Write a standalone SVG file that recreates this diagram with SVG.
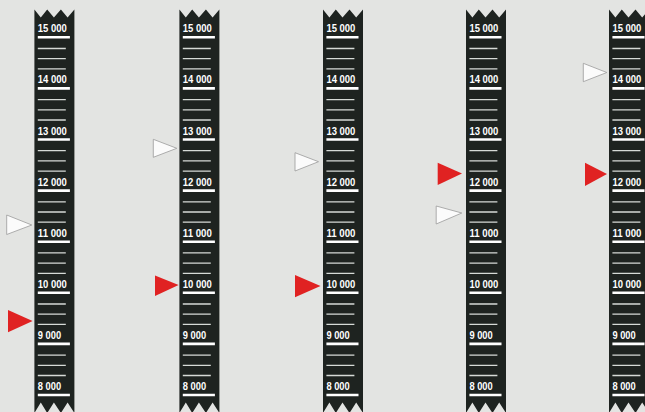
<svg xmlns="http://www.w3.org/2000/svg" width="645" height="412" viewBox="0 0 645 412">
<defs>
<style>
.tape{fill:#1e2320}
.lbl{font-family:"Liberation Sans",Arial,sans-serif;font-weight:bold;font-size:10.6px;fill:#ffffff}
.thick{stroke:#ffffff;stroke-width:2.6;fill:none}
.thin{stroke:#d6dad6;stroke-width:1.3;fill:none}
.red{fill:#e02222}
.white{fill:#fbfbfb;stroke:#9a9a9a;stroke-width:0.8}
</style>
<path id="tapeShape" d="M0,9.5 L6.4,17.5 L12.8,9.5 L19.5,17.5 L26.5,9.5 L33.2,17.5 L40,9.5 L40,413 L33.2,402.5 L26.5,413 L19.5,402.5 L12.8,413 L6.4,402.5 L0,413 Z"/>
<path id="thinTicks" d="M3.4,48.5H31.4M3.4,58.7H31.4M3.4,68.9H31.4M3.4,99.6H31.4M3.4,109.8H31.4M3.4,120H31.4M3.4,150.7H31.4M3.4,160.9H31.4M3.4,171.1H31.4M3.4,201.8H31.4M3.4,212H31.4M3.4,222.2H31.4M3.4,252.9H31.4M3.4,263.1H31.4M3.4,273.3H31.4M3.4,304H31.4M3.4,314.2H31.4M3.4,324.4H31.4M3.4,355.1H31.4M3.4,365.3H31.4M3.4,375.5H31.4"/>
<path id="thickTicks" d="M3.4,37.3H35.5M3.4,88.4H35.5M3.4,139.5H35.5M3.4,190.6H35.5M3.4,241.7H35.5M3.4,292.8H35.5M3.4,343.9H35.5M3.4,395H35.5"/>
</defs>
<rect width="645" height="412" fill="#e3e4e2"/>

<g id="altimeter1" transform="translate(34.4,0)">
<use href="#tapeShape" class="tape"/>
<use href="#thinTicks" class="thin"/>
<use href="#thickTicks" class="thick"/>
<text class="lbl" x="3.4" y="32.3" textLength="29" lengthAdjust="spacingAndGlyphs">15 000</text>
<text class="lbl" x="3.4" y="83.4" textLength="29" lengthAdjust="spacingAndGlyphs">14 000</text>
<text class="lbl" x="3.4" y="134.5" textLength="29" lengthAdjust="spacingAndGlyphs">13 000</text>
<text class="lbl" x="3.4" y="185.6" textLength="29" lengthAdjust="spacingAndGlyphs">12 000</text>
<text class="lbl" x="3.4" y="236.7" textLength="29" lengthAdjust="spacingAndGlyphs">11 000</text>
<text class="lbl" x="3.4" y="287.8" textLength="29" lengthAdjust="spacingAndGlyphs">10 000</text>
<text class="lbl" x="3.4" y="338.9" textLength="23.3" lengthAdjust="spacingAndGlyphs">9 000</text>
<text class="lbl" x="3.4" y="390" textLength="23.3" lengthAdjust="spacingAndGlyphs">8 000</text>
</g>

<g id="altimeter2" transform="translate(179.4,0)">
<use href="#tapeShape" class="tape"/>
<use href="#thinTicks" class="thin"/>
<use href="#thickTicks" class="thick"/>
<text class="lbl" x="3.4" y="32.3" textLength="29" lengthAdjust="spacingAndGlyphs">15 000</text>
<text class="lbl" x="3.4" y="83.4" textLength="29" lengthAdjust="spacingAndGlyphs">14 000</text>
<text class="lbl" x="3.4" y="134.5" textLength="29" lengthAdjust="spacingAndGlyphs">13 000</text>
<text class="lbl" x="3.4" y="185.6" textLength="29" lengthAdjust="spacingAndGlyphs">12 000</text>
<text class="lbl" x="3.4" y="236.7" textLength="29" lengthAdjust="spacingAndGlyphs">11 000</text>
<text class="lbl" x="3.4" y="287.8" textLength="29" lengthAdjust="spacingAndGlyphs">10 000</text>
<text class="lbl" x="3.4" y="338.9" textLength="23.3" lengthAdjust="spacingAndGlyphs">9 000</text>
<text class="lbl" x="3.4" y="390" textLength="23.3" lengthAdjust="spacingAndGlyphs">8 000</text>
</g>

<g id="altimeter3" transform="translate(323,0)">
<use href="#tapeShape" class="tape"/>
<use href="#thinTicks" class="thin"/>
<use href="#thickTicks" class="thick"/>
<text class="lbl" x="3.4" y="32.3" textLength="29" lengthAdjust="spacingAndGlyphs">15 000</text>
<text class="lbl" x="3.4" y="83.4" textLength="29" lengthAdjust="spacingAndGlyphs">14 000</text>
<text class="lbl" x="3.4" y="134.5" textLength="29" lengthAdjust="spacingAndGlyphs">13 000</text>
<text class="lbl" x="3.4" y="185.6" textLength="29" lengthAdjust="spacingAndGlyphs">12 000</text>
<text class="lbl" x="3.4" y="236.7" textLength="29" lengthAdjust="spacingAndGlyphs">11 000</text>
<text class="lbl" x="3.4" y="287.8" textLength="29" lengthAdjust="spacingAndGlyphs">10 000</text>
<text class="lbl" x="3.4" y="338.9" textLength="23.3" lengthAdjust="spacingAndGlyphs">9 000</text>
<text class="lbl" x="3.4" y="390" textLength="23.3" lengthAdjust="spacingAndGlyphs">8 000</text>
</g>

<g id="altimeter4" transform="translate(466,0)">
<use href="#tapeShape" class="tape"/>
<use href="#thinTicks" class="thin"/>
<use href="#thickTicks" class="thick"/>
<text class="lbl" x="3.4" y="32.3" textLength="29" lengthAdjust="spacingAndGlyphs">15 000</text>
<text class="lbl" x="3.4" y="83.4" textLength="29" lengthAdjust="spacingAndGlyphs">14 000</text>
<text class="lbl" x="3.4" y="134.5" textLength="29" lengthAdjust="spacingAndGlyphs">13 000</text>
<text class="lbl" x="3.4" y="185.6" textLength="29" lengthAdjust="spacingAndGlyphs">12 000</text>
<text class="lbl" x="3.4" y="236.7" textLength="29" lengthAdjust="spacingAndGlyphs">11 000</text>
<text class="lbl" x="3.4" y="287.8" textLength="29" lengthAdjust="spacingAndGlyphs">10 000</text>
<text class="lbl" x="3.4" y="338.9" textLength="23.3" lengthAdjust="spacingAndGlyphs">9 000</text>
<text class="lbl" x="3.4" y="390" textLength="23.3" lengthAdjust="spacingAndGlyphs">8 000</text>
</g>

<g id="altimeter5" transform="translate(609,0)">
<use href="#tapeShape" class="tape"/>
<use href="#thinTicks" class="thin"/>
<use href="#thickTicks" class="thick"/>
<text class="lbl" x="3.4" y="32.3" textLength="29" lengthAdjust="spacingAndGlyphs">15 000</text>
<text class="lbl" x="3.4" y="83.4" textLength="29" lengthAdjust="spacingAndGlyphs">14 000</text>
<text class="lbl" x="3.4" y="134.5" textLength="29" lengthAdjust="spacingAndGlyphs">13 000</text>
<text class="lbl" x="3.4" y="185.6" textLength="29" lengthAdjust="spacingAndGlyphs">12 000</text>
<text class="lbl" x="3.4" y="236.7" textLength="29" lengthAdjust="spacingAndGlyphs">11 000</text>
<text class="lbl" x="3.4" y="287.8" textLength="29" lengthAdjust="spacingAndGlyphs">10 000</text>
<text class="lbl" x="3.4" y="338.9" textLength="23.3" lengthAdjust="spacingAndGlyphs">9 000</text>
<text class="lbl" x="3.4" y="390" textLength="23.3" lengthAdjust="spacingAndGlyphs">8 000</text>
</g>

<g id="markers">
<polygon id="white1" class="white" points="6.7,215 31.8,225 6.7,234.5"/>
<polygon id="red1" class="red" points="8,310 32.6,321 8,332.3"/>
<polygon id="white2" class="white" points="153.3,139.3 176.8,148.3 153.3,157.3"/>
<polygon id="red2" class="red" points="155,275.5 178.6,285 155,296"/>
<polygon id="white3" class="white" points="295,152.7 318.5,161.7 295,171"/>
<polygon id="red3" class="red" points="295,275 320.5,286 295,297.3"/>
<polygon id="red4" class="red" points="437.7,162.7 462,173.5 437.7,185"/>
<polygon id="white4" class="white" points="436.2,206 461.8,213 436.2,224"/>
<polygon id="white5" class="white" points="583.3,63.3 606.8,72.5 583.3,81.7"/>
<polygon id="red5" class="red" points="585,162.7 607,174 585,186"/>
</g>
</svg>
